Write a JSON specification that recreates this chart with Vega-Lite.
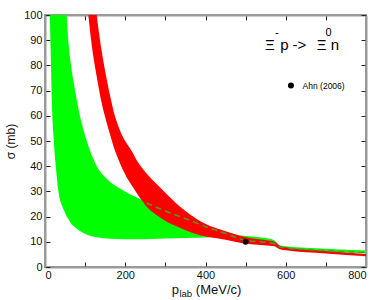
{
  "$schema": "https://vega.github.io/schema/vega-lite/v6.json",
  "width": 321,
  "height": 252,
  "autosize": {"type": "none"},
  "padding": {"left": 45, "top": 15, "right": 22, "bottom": 33},
  "background": "white",
  "config": {
    "font": "Liberation Sans",
    "view": {"stroke": "#9a9a9a", "strokeWidth": 2},
    "axis": {
      "grid": false,
      "domainColor": "#9a9a9a",
      "domainWidth": 2,
      "tickColor": "#222",
      "tickWidth": 1,
      "labelFont": "Liberation Sans",
      "labelFontSize": 11,
      "labelColor": "#111",
      "labelOverlap": false,
      "titleFont": "Liberation Sans",
      "titleFontWeight": "normal",
      "titleFontSize": 12,
      "titleColor": "#111"
    }
  },
  "datasets": {
    "green": [
      {"x": 12, "lo": 100, "hi": 200},
      {"x": 15, "lo": 80, "hi": 200},
      {"x": 17, "lo": 66, "hi": 200},
      {"x": 22, "lo": 50, "hi": 200},
      {"x": 28, "lo": 38, "hi": 200},
      {"x": 37, "lo": 27, "hi": 200},
      {"x": 42, "lo": 24.5, "hi": 200},
      {"x": 50, "lo": 21.5, "hi": 112},
      {"x": 54, "lo": 20, "hi": 100},
      {"x": 58, "lo": 19, "hi": 90},
      {"x": 65, "lo": 17.3, "hi": 80},
      {"x": 75, "lo": 15.8, "hi": 70},
      {"x": 87, "lo": 14.3, "hi": 60},
      {"x": 104, "lo": 12.9, "hi": 50},
      {"x": 129, "lo": 11.8, "hi": 40},
      {"x": 154, "lo": 11.3, "hi": 35},
      {"x": 199, "lo": 11, "hi": 30},
      {"x": 237, "lo": 11, "hi": 27},
      {"x": 262, "lo": 11.1, "hi": 25},
      {"x": 300, "lo": 11.3, "hi": 21.5},
      {"x": 350, "lo": 11.5, "hi": 17.8},
      {"x": 400, "lo": 11.7, "hi": 14.8},
      {"x": 450, "lo": 11.8, "hi": 13},
      {"x": 500, "lo": 10.5, "hi": 12.3},
      {"x": 560, "lo": 9.8, "hi": 11.2},
      {"x": 572, "lo": 9.5, "hi": 10.5},
      {"x": 585, "lo": 7.4, "hi": 8.6},
      {"x": 600, "lo": 7, "hi": 8.2},
      {"x": 700, "lo": 6.2, "hi": 7.2},
      {"x": 800, "lo": 5.5, "hi": 6.5}
    ],
    "red": [
      {"x": 108, "lo": 100, "hi": 145},
      {"x": 115, "lo": 90, "hi": 125},
      {"x": 122, "lo": 82, "hi": 111},
      {"x": 129, "lo": 75.5, "hi": 100},
      {"x": 140, "lo": 66, "hi": 87},
      {"x": 152, "lo": 58.2, "hi": 76},
      {"x": 165, "lo": 51, "hi": 66},
      {"x": 174, "lo": 46.3, "hi": 60},
      {"x": 177, "lo": 45, "hi": 58.5},
      {"x": 190, "lo": 40, "hi": 53},
      {"x": 208, "lo": 34.4, "hi": 48},
      {"x": 216, "lo": 32.4, "hi": 46},
      {"x": 230, "lo": 29, "hi": 42},
      {"x": 241, "lo": 26.5, "hi": 39.5},
      {"x": 262, "lo": 22.5, "hi": 35.5},
      {"x": 270, "lo": 21.5, "hi": 34.2},
      {"x": 300, "lo": 18.3, "hi": 29.5},
      {"x": 316, "lo": 17, "hi": 27},
      {"x": 336, "lo": 15.6, "hi": 24},
      {"x": 350, "lo": 14.6, "hi": 22.2},
      {"x": 386, "lo": 12.6, "hi": 18.3},
      {"x": 420, "lo": 11.6, "hi": 15.8},
      {"x": 450, "lo": 10.8, "hi": 14.2},
      {"x": 498, "lo": 9.3, "hi": 11.9},
      {"x": 560, "lo": 8.4, "hi": 10.4},
      {"x": 572, "lo": 8.2, "hi": 10},
      {"x": 585, "lo": 7, "hi": 8.4},
      {"x": 600, "lo": 6.6, "hi": 7.8},
      {"x": 700, "lo": 5.4, "hi": 6.3},
      {"x": 800, "lo": 4.3, "hi": 5.2}
    ],
    "dashed": [
      {"x": 253, "y": 25.4},
      {"x": 300, "y": 22.2},
      {"x": 353, "y": 19},
      {"x": 400, "y": 16},
      {"x": 450, "y": 13.3},
      {"x": 498, "y": 10.6},
      {"x": 560, "y": 9.6},
      {"x": 572, "y": 9.2},
      {"x": 585, "y": 7.9},
      {"x": 650, "y": 7},
      {"x": 800, "y": 5.7}
    ],
    "points": [
      {"x": 500, "y": 10},
      {"x": 613, "y": 72}
    ],
    "bigtext": [
      {"x": 548, "y": 86, "t": "Ξ"},
      {"x": 586, "y": 86, "t": "p"},
      {"x": 617, "y": 86, "t": "->"},
      {"x": 677, "y": 86, "t": "Ξ"},
      {"x": 712, "y": 86, "t": "n"}
    ],
    "suptext": [
      {"x": 573, "y": 91.5, "t": "-"},
      {"x": 699, "y": 91.5, "t": "0"}
    ],
    "legendtext": [
      {"x": 642, "y": 72, "t": "Ahn (2006)"}
    ],
    "xtitle": [
      {"x": 316, "y": -10.6, "t": "p"},
      {"x": 376, "y": -10.6, "t": "(MeV/c)"}
    ],
    "xsub": [
      {"x": 335, "y": -12, "t": "lab"}
    ]
  },
  "resolve": {"axis": {"x": "independent", "y": "independent"}},
  "layer": [
    {
      "layer": [
        {
          "data": {"name": "green"},
          "mark": {"type": "area", "color": "#00ff00", "clip": true, "interpolate": "monotone"},
          "encoding": {
            "x": {"field": "x", "type": "quantitative", "scale": {"domain": [0, 800], "nice": false},
              "axis": {"orient": "bottom", "tickCount": 8, "labelExpr": "datum.value % 200 == 0 ? datum.label : ''", "tickSize": -5, "labelPadding": 7, "title": null}},
            "y": {"field": "lo", "type": "quantitative", "scale": {"domain": [0, 100], "nice": false},
              "axis": {"orient": "left", "tickCount": 10, "tickSize": -5, "labelPadding": 8, "title": "σ (mb)", "titlePadding": 6}},
            "y2": {"field": "hi"}
          }
        },
        {
          "data": {"name": "red"},
          "mark": {"type": "area", "color": "#ff0000", "clip": true, "interpolate": "monotone"},
          "encoding": {
            "x": {"field": "x", "type": "quantitative", "scale": {"domain": [0, 800], "nice": false}},
            "y": {"field": "lo", "type": "quantitative", "scale": {"domain": [0, 100], "nice": false}},
            "y2": {"field": "hi"}
          }
        },
        {
          "data": {"name": "dashed"},
          "mark": {"type": "line", "color": "#4a9d2a", "strokeDash": [6, 4], "strokeWidth": 1.5, "interpolate": "monotone"},
          "encoding": {
            "x": {"field": "x", "type": "quantitative", "scale": {"domain": [0, 800], "nice": false}},
            "y": {"field": "y", "type": "quantitative", "scale": {"domain": [0, 100], "nice": false}}
          }
        },
        {
          "data": {"name": "points"},
          "mark": {"type": "point", "filled": true, "color": "black", "opacity": 1, "size": 36},
          "encoding": {
            "x": {"field": "x", "type": "quantitative", "scale": {"domain": [0, 800], "nice": false}},
            "y": {"field": "y", "type": "quantitative", "scale": {"domain": [0, 100], "nice": false}}
          }
        },
        {
          "data": {"name": "bigtext"},
          "mark": {"type": "text", "align": "left", "baseline": "alphabetic", "fontSize": 15, "color": "black"},
          "encoding": {
            "x": {"field": "x", "type": "quantitative", "scale": {"domain": [0, 800], "nice": false}},
            "y": {"field": "y", "type": "quantitative", "scale": {"domain": [0, 100], "nice": false}},
            "text": {"field": "t"}
          }
        },
        {
          "data": {"name": "suptext"},
          "mark": {"type": "text", "align": "left", "baseline": "alphabetic", "fontSize": 11, "color": "black"},
          "encoding": {
            "x": {"field": "x", "type": "quantitative", "scale": {"domain": [0, 800], "nice": false}},
            "y": {"field": "y", "type": "quantitative", "scale": {"domain": [0, 100], "nice": false}},
            "text": {"field": "t"}
          }
        },
        {
          "data": {"name": "legendtext"},
          "mark": {"type": "text", "align": "left", "baseline": "middle", "fontSize": 8.5, "color": "black"},
          "encoding": {
            "x": {"field": "x", "type": "quantitative", "scale": {"domain": [0, 800], "nice": false}},
            "y": {"field": "y", "type": "quantitative", "scale": {"domain": [0, 100], "nice": false}},
            "text": {"field": "t"}
          }
        },
        {
          "data": {"name": "xtitle"},
          "mark": {"type": "text", "align": "left", "baseline": "alphabetic", "fontSize": 13, "color": "#111"},
          "encoding": {
            "x": {"field": "x", "type": "quantitative", "scale": {"domain": [0, 800], "nice": false}},
            "y": {"field": "y", "type": "quantitative", "scale": {"domain": [0, 100], "nice": false}},
            "text": {"field": "t"}
          }
        },
        {
          "data": {"name": "xsub"},
          "mark": {"type": "text", "align": "left", "baseline": "alphabetic", "fontSize": 9.5, "color": "#111"},
          "encoding": {
            "x": {"field": "x", "type": "quantitative", "scale": {"domain": [0, 800], "nice": false}},
            "y": {"field": "y", "type": "quantitative", "scale": {"domain": [0, 100], "nice": false}},
            "text": {"field": "t"}
          }
        }
      ]
    },
    {
      "data": {"name": "points"},
      "mark": {"type": "point", "opacity": 0},
      "encoding": {
        "x": {"field": "x", "type": "quantitative", "scale": {"domain": [0, 800], "nice": false},
          "axis": {"orient": "top", "tickCount": 8, "labels": false, "tickSize": -5, "title": null}},
        "y": {"field": "y", "type": "quantitative", "scale": {"domain": [0, 100], "nice": false},
          "axis": {"orient": "right", "tickCount": 10, "labels": false, "tickSize": -5, "title": null}}
      }
    }
  ]
}
